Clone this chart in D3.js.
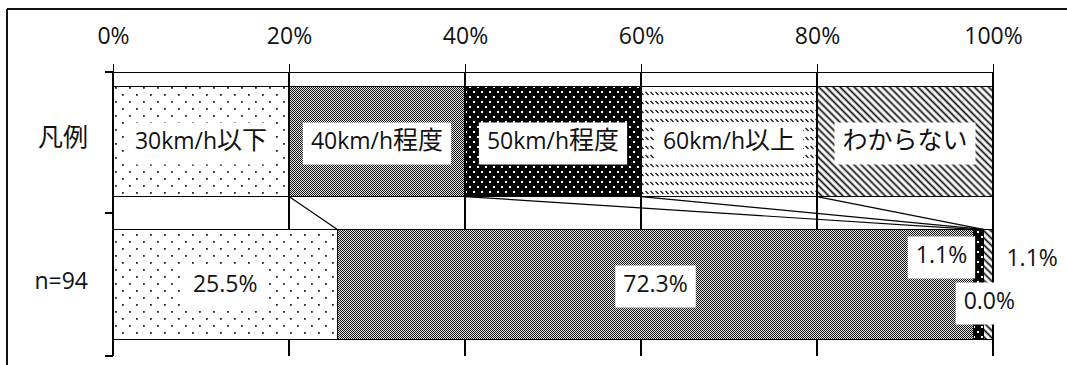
<!DOCTYPE html>
<html>
<head>
<meta charset="utf-8">
<script src="https://cdn.jsdelivr.net/npm/d3@7"></script>
<style>
  html, body { margin: 0; padding: 0; background: #fff; }
  svg { display: block; }
</style>
</head>
<body>
<svg id="chart" width="1067" height="365"></svg>
<script>
// Row captions (category axis)
const rowLabels = ["凡例", "n=94"];
// Speed answer categories, shown as the legend row
const speedCategories = ["30km/h以下", "40km/h程度", "50km/h程度", "60km/h以上", "わからない"];
// Legend row: equal 20% slots, one per category
const legendShares = [20, 20, 20, 20, 20];
// Survey answers (%), n = 94
const surveyShares = [25.5, 72.3, 1.1, 0.0, 1.1];
// Percentage axis ticks
const tickValues = [0, 20, 40, 60, 80, 100];
const tickLabels = ["0%", "20%", "40%", "60%", "80%", "100%"];

const svg = d3.select("#chart");
const LATIN = "'Open Sans', 'Noto Sans', sans-serif";
const CJK = "'Noto Sans CJK JP', sans-serif";
const ink = "#111";

const x = d3.scaleLinear().domain([0, 100]).range([113, 993]);
const y = d3.scaleBand().domain(rowLabels).range([70, 356])
  .paddingInner(0.23).paddingOuter(0.115);
const axisY = 72;

// ---- fill patterns (one per category) ----
const defs = svg.append("defs");

// sparse staggered dots
const pDots = defs.append("pattern").attr("id", "p0")
  .attr("patternUnits", "userSpaceOnUse").attr("width", 14).attr("height", 14);
pDots.append("rect").attr("width", 14).attr("height", 14).attr("fill", "#fff");
pDots.append("rect").attr("x", 3).attr("y", 3).attr("width", 1.8).attr("height", 1.8).attr("fill", "#222");
pDots.append("rect").attr("x", 10).attr("y", 10).attr("width", 1.8).attr("height", 1.8).attr("fill", "#222");

// fine checker (mid gray)
const pCheck = defs.append("pattern").attr("id", "p1")
  .attr("patternUnits", "userSpaceOnUse").attr("width", 2).attr("height", 2);
pCheck.append("rect").attr("width", 2).attr("height", 2).attr("fill", "#e4e4e4");
pCheck.append("rect").attr("x", 0).attr("y", 0).attr("width", 1).attr("height", 1).attr("fill", "#141414");
pCheck.append("rect").attr("x", 1).attr("y", 1).attr("width", 1).attr("height", 1).attr("fill", "#141414");

// black with white dots
const pBlack = defs.append("pattern").attr("id", "p2")
  .attr("patternUnits", "userSpaceOnUse").attr("width", 8).attr("height", 10);
pBlack.append("rect").attr("width", 8).attr("height", 10).attr("fill", "#000");
pBlack.append("rect").attr("x", 1).attr("y", 1).attr("width", 2).attr("height", 2).attr("fill", "#fff");
pBlack.append("rect").attr("x", 5).attr("y", 6).attr("width", 2).attr("height", 2).attr("fill", "#fff");

// rows of short diagonal dashes
const pDash = defs.append("pattern").attr("id", "p3")
  .attr("patternUnits", "userSpaceOnUse").attr("width", 5).attr("height", 9);
pDash.append("rect").attr("width", 5).attr("height", 9).attr("fill", "#fff");
pDash.append("line").attr("x1", 0.5).attr("y1", 2).attr("x2", 3.5).attr("y2", 5)
  .attr("stroke", "#111").attr("stroke-width", 1.3);

// wide downward diagonal stripes
const pDiag = defs.append("pattern").attr("id", "p4")
  .attr("patternUnits", "userSpaceOnUse").attr("width", 10).attr("height", 5)
  .attr("patternTransform", "rotate(45)");
pDiag.append("rect").attr("width", 10).attr("height", 5).attr("fill", "#fff");
pDiag.append("line").attr("x1", 0).attr("y1", 2.5).attr("x2", 10).attr("y2", 2.5)
  .attr("stroke", "#111").attr("stroke-width", 1.8);

const fills = speedCategories.map((_, i) => `url(#p${i})`);

// ---- text helper: Latin and CJK runs in their own fonts ----
function fillMixed(textSel, str) {
  textSel.text(null);
  const runs = str.match(/[\u3040-\u30ff\u3400-\u9fff]+|[^\u3040-\u30ff\u3400-\u9fff]+/g) || [];
  runs.forEach(r => {
    const cjk = /[\u3040-\u30ff\u3400-\u9fff]/.test(r);
    textSel.append("tspan")
      .attr("font-family", cjk ? CJK : LATIN)
      .attr("font-size", cjk ? 25 : 23)
      .text(r);
  });
}

// ---- outer frame ----
svg.append("line").attr("x1", 7).attr("y1", 9).attr("x2", 1067).attr("y2", 9)
  .attr("stroke", ink).attr("stroke-width", 2);
svg.append("line").attr("x1", 7).attr("y1", 9).attr("x2", 7).attr("y2", 365)
  .attr("stroke", ink).attr("stroke-width", 2);

// ---- vertical gridlines ----
const bottom = y.range()[1];
svg.append("g").selectAll("line")
  .data(tickValues.filter(d => d > 0))
  .join("line")
  .attr("x1", d => x(d)).attr("x2", d => x(d))
  .attr("y1", axisY).attr("y2", bottom)
  .attr("stroke", "#000").attr("stroke-width", 1.2)
  .attr("shape-rendering", "crispEdges");

// ---- stacked bars ----
const rows = [
  { key: rowLabels[0], values: legendShares, labels: speedCategories },
  { key: rowLabels[1], values: surveyShares, labels: surveyShares.map(v => v.toFixed(1) + "%") }
];
rows.forEach(r => {
  const ends = d3.cumsum(r.values);
  r.segs = r.values.map((v, i) => ({ x0: ends[i] - v, x1: ends[i], i, label: r.labels[i] }));
  r.ends = Array.from(ends);
});

const barG = svg.append("g");
rows.forEach(r => {
  barG.append("g").selectAll("rect")
    .data(r.segs)
    .join("rect")
    .attr("x", d => x(d.x0))
    .attr("y", y(r.key))
    .attr("width", d => x(d.x1) - x(d.x0))
    .attr("height", y.bandwidth())
    .attr("fill", d => fills[d.i])
    .attr("stroke", "#000")
    .attr("stroke-width", 1.2)
    .attr("shape-rendering", "crispEdges");
});

// ---- series lines between the two rows ----
const topRow = rows[0], botRow = rows[1];
svg.append("g").selectAll("line")
  .data(d3.range(topRow.ends.length))
  .join("line")
  .attr("x1", i => x(topRow.ends[i]))
  .attr("y1", y(topRow.key) + y.bandwidth())
  .attr("x2", i => x(botRow.ends[i]))
  .attr("y2", y(botRow.key))
  .attr("stroke", "#000").attr("stroke-width", 1.2);

// ---- percentage axis on top ----
const xAxis = svg.append("g")
  .attr("transform", `translate(0,${axisY})`)
  .call(d3.axisTop(x)
    .tickValues(tickValues)
    .tickFormat((d, i) => tickLabels[i])
    .tickSize(8).tickPadding(20).tickSizeOuter(0));
xAxis.selectAll("path, line").attr("stroke", "#000").attr("stroke-width", 1.2)
  .attr("shape-rendering", "crispEdges");
xAxis.selectAll("text").attr("font-family", LATIN).attr("font-size", 23).attr("fill", ink);

// ---- category axis on the left ----
const yAxis = svg.append("g")
  .attr("transform", `translate(${x(0)},0)`)
  .call(d3.axisLeft(y).tickSize(0).tickPadding(25));
yAxis.select(".domain").remove();
yAxis.selectAll("text").attr("fill", ink).attr("dy", "0.45em")
  .each(function(d) { fillMixed(d3.select(this), d); });

// spine and between-category ticks
const midBoundary = (y(rowLabels[0]) + y.bandwidth() + y(rowLabels[1])) / 2;
svg.append("line").attr("x1", x(0)).attr("x2", x(0)).attr("y1", axisY).attr("y2", bottom)
  .attr("stroke", "#000").attr("stroke-width", 1.2).attr("shape-rendering", "crispEdges");
svg.append("g").selectAll("line")
  .data([axisY, midBoundary, bottom])
  .join("line")
  .attr("x1", x(0) - 8).attr("x2", x(0))
  .attr("y1", d => d).attr("y2", d => d)
  .attr("stroke", "#000").attr("stroke-width", 1.2).attr("shape-rendering", "crispEdges");

// ---- data labels with white boxes ----
// small slices at the right end get nudged off the bar
const nudges = { 1: { 2: [-37, -27], 3: [6, 19], 4: [44, -24] } };
const labelG = svg.append("g");
rows.forEach((r, ri) => {
  r.segs.forEach(s => {
    const off = (nudges[ri] && nudges[ri][s.i]) || [0, 2];
    const cx = (x(s.x0) + x(s.x1)) / 2 + off[0];
    const cy = y(r.key) + y.bandwidth() / 2 + off[1];
    const g = labelG.append("g");
    const box = g.append("rect").attr("fill", "#fff");
    const t = g.append("text")
      .attr("x", cx).attr("y", cy).attr("dy", "0.36em")
      .attr("text-anchor", "middle").attr("fill", ink);
    fillMixed(t, s.label);
    const w = t.node().getComputedTextLength();
    box.attr("x", cx - w / 2 - 8).attr("y", cy - 21)
      .attr("width", w + 16).attr("height", 42);
  });
});
</script>
</body>
</html>
